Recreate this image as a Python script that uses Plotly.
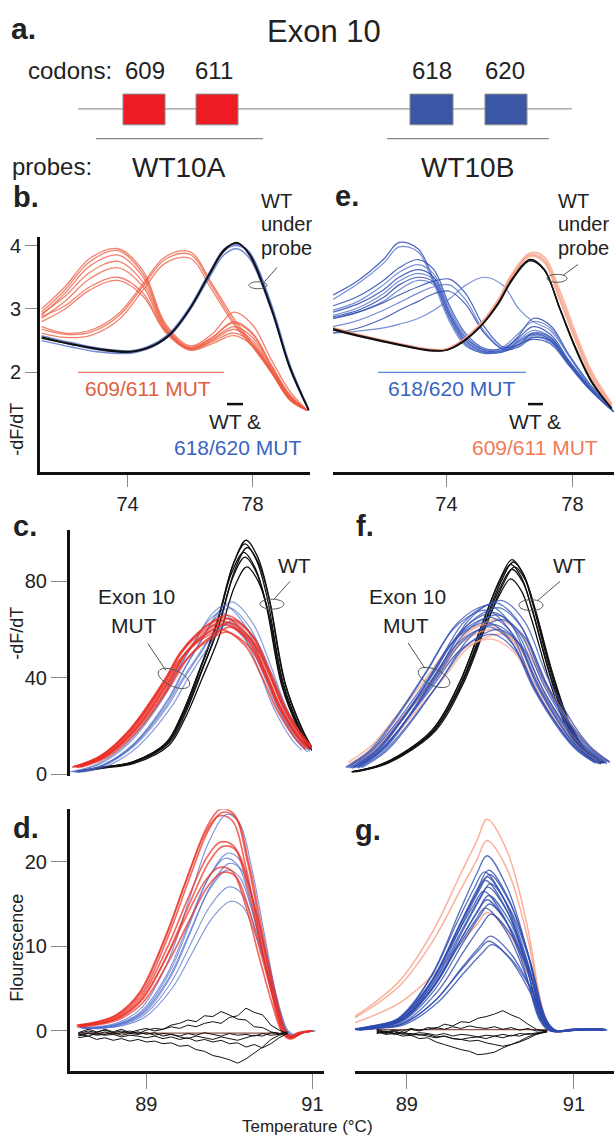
import numpy as np
import plotly.graph_objects as go

# ---------------- DATA ----------------
# Panel a (diagram)
codon_labels = ["609", "611", "618", "620"]
probe_labels = ["WT10A", "WT10B"]

# Panel b: -dF/dT, WT10A probe (temperature samples)
b_x = [71.25, 72.0, 72.8, 73.7, 74.5, 75.2, 76.0, 76.7, 77.4, 78.0, 78.6, 79.2, 79.75]
b_red_low = [  # 609/611 MUT, low-Tm peak
    [3.00, 3.35, 3.80, 3.95, 3.60, 2.78, 2.42, 2.60, 2.95, 2.75, 2.20, 1.70, 1.40],
    [2.95, 3.30, 3.75, 3.92, 3.55, 2.75, 2.40, 2.55, 2.80, 2.62, 2.12, 1.65, 1.40],
    [2.90, 3.25, 3.68, 3.85, 3.50, 2.72, 2.38, 2.52, 2.72, 2.55, 2.08, 1.62, 1.40],
    [2.92, 3.20, 3.58, 3.75, 3.42, 2.70, 2.37, 2.50, 2.68, 2.50, 2.05, 1.60, 1.40],
    [2.85, 3.12, 3.48, 3.65, 3.35, 2.68, 2.36, 2.48, 2.62, 2.46, 2.02, 1.58, 1.40],
    [2.88, 3.05, 3.35, 3.50, 3.25, 2.66, 2.38, 2.55, 2.78, 2.60, 2.10, 1.62, 1.40],
    [2.80, 3.00, 3.30, 3.45, 3.20, 2.64, 2.35, 2.45, 2.58, 2.42, 2.00, 1.56, 1.40],
]
b_red_mid = [  # 609/611 MUT, intermediate peak
    [2.72, 2.62, 2.66, 2.92, 3.40, 3.82, 3.90, 3.40, 2.85, 2.45, 2.05, 1.60, 1.40],
    [2.68, 2.60, 2.63, 2.88, 3.36, 3.78, 3.86, 3.36, 2.80, 2.42, 2.02, 1.58, 1.40],
    [2.62, 2.55, 2.58, 2.82, 3.30, 3.72, 3.80, 3.30, 2.76, 2.40, 2.00, 1.56, 1.40],
]
b_wt_x = [71.25, 72.2, 73.1, 74.1, 74.8, 75.4, 76.0, 76.6, 77.1, 77.5, 77.9, 78.6, 79.2, 79.8]
b_blue = [  # 618/620 MUT
    [2.50, 2.40, 2.32, 2.30, 2.40, 2.60, 2.98, 3.48, 3.86, 3.95, 3.80, 2.98, 2.05, 1.40],
    [2.58, 2.47, 2.38, 2.34, 2.44, 2.65, 3.04, 3.56, 3.95, 4.02, 3.90, 3.08, 2.12, 1.42],
    [2.54, 2.44, 2.35, 2.32, 2.42, 2.63, 3.02, 3.53, 3.92, 4.00, 3.88, 3.04, 2.09, 1.41],
]
b_black = [  # WT
    [2.56, 2.45, 2.37, 2.33, 2.42, 2.62, 3.00, 3.52, 3.92, 4.05, 3.85, 3.00, 2.06, 1.40],
    [2.54, 2.44, 2.36, 2.32, 2.41, 2.61, 3.01, 3.54, 3.94, 4.04, 3.87, 3.02, 2.08, 1.41],
]

# Panel e: -dF/dT, WT10B probe
e_x = [70.4, 71.2, 72.0, 72.5, 73.1, 73.6, 74.1, 74.6, 75.2, 75.8, 76.3, 76.75, 77.3, 77.9, 78.5, 79.3]
e_blue = [  # 618/620 MUT
    [3.22, 3.45, 3.78, 4.05, 3.95, 3.45, 2.85, 2.45, 2.30, 2.35, 2.58, 2.85, 2.74, 2.27, 1.85, 1.38],
    [3.15, 3.40, 3.72, 3.98, 3.90, 3.40, 2.80, 2.42, 2.32, 2.40, 2.62, 2.80, 2.70, 2.25, 1.82, 1.38],
    [3.05, 3.20, 3.45, 3.65, 3.78, 3.62, 3.05, 2.62, 2.38, 2.38, 2.55, 2.72, 2.60, 2.18, 1.80, 1.38],
    [2.98, 3.12, 3.38, 3.58, 3.70, 3.55, 3.00, 2.58, 2.36, 2.36, 2.52, 2.66, 2.56, 2.15, 1.78, 1.38],
    [2.95, 3.08, 3.30, 3.50, 3.62, 3.50, 2.95, 2.55, 2.35, 2.34, 2.48, 2.60, 2.52, 2.13, 1.77, 1.38],
    [2.90, 3.02, 3.24, 3.44, 3.56, 3.46, 2.92, 2.52, 2.33, 2.33, 2.45, 2.55, 2.48, 2.12, 1.76, 1.38],
    [2.88, 2.98, 3.18, 3.38, 3.50, 3.42, 2.90, 2.50, 2.32, 2.32, 2.44, 2.52, 2.45, 2.10, 1.75, 1.38],
    [2.85, 2.95, 3.12, 3.30, 3.45, 3.38, 2.88, 2.48, 2.31, 2.34, 2.50, 2.62, 2.50, 2.12, 1.76, 1.38],
    [2.85, 2.95, 3.10, 3.22, 3.35, 3.44, 3.47, 3.25, 2.72, 2.40, 2.44, 2.62, 2.55, 2.16, 1.78, 1.38],
    [2.72, 2.82, 2.98, 3.10, 3.25, 3.35, 3.38, 3.15, 2.65, 2.37, 2.42, 2.58, 2.52, 2.14, 1.77, 1.38],
    [2.62, 2.70, 2.85, 2.98, 3.12, 3.24, 3.28, 3.08, 2.62, 2.36, 2.40, 2.55, 2.50, 2.13, 1.77, 1.38],
    [2.62, 2.65, 2.70, 2.76, 2.85, 2.98, 3.16, 3.37, 3.50, 3.37, 3.00, 2.80, 2.66, 2.25, 1.82, 1.38],
]
e_wt_x = [70.4, 71.4, 72.4, 73.47, 74.0, 74.5, 75.1, 75.65, 76.08, 76.65, 77.1, 77.6, 78.1, 78.6, 79.25]
e_salmon = [  # 609/611 MUT
    [2.70, 2.57, 2.46, 2.36, 2.36, 2.50, 2.78, 3.15, 3.55, 3.88, 3.82, 3.28, 2.62, 2.02, 1.50],
    [2.68, 2.55, 2.45, 2.35, 2.36, 2.49, 2.76, 3.12, 3.50, 3.85, 3.77, 3.20, 2.55, 1.97, 1.47],
    [2.70, 2.57, 2.46, 2.36, 2.37, 2.50, 2.76, 3.13, 3.52, 3.83, 3.74, 3.14, 2.50, 1.93, 1.45],
]
e_black = [  # WT
    [2.69, 2.56, 2.45, 2.35, 2.35, 2.48, 2.74, 3.10, 3.47, 3.78, 3.63, 3.00, 2.37, 1.85, 1.42],
    [2.67, 2.55, 2.44, 2.34, 2.35, 2.47, 2.73, 3.08, 3.45, 3.76, 3.62, 3.01, 2.39, 1.87, 1.43],
]

# Panel c: -dF/dT (no probe), normalised shapes x peak heights
c_black_x = [70.29, 71.24, 72.6, 74.0, 74.67, 75.37, 76.07, 76.74, 77.23, 77.7, 78.14, 78.8, 79.5, 79.92]
c_black_shape = [0.013, 0.03, 0.055, 0.14, 0.27, 0.46, 0.66, 0.91, 1.0, 0.93, 0.77, 0.40, 0.20, 0.115]
c_black_peaks = [97, 95.5, 94, 92, 90, 86]
c_black_shift = [0.05, 0.0, 0.1, -0.05, 0.0, 0.08]
c_red_x = [70.29, 71.4, 72.6, 74.0, 74.67, 75.37, 76.0, 76.49, 77.44, 78.14, 78.8, 79.5, 79.92]
c_red_shape = [0.05, 0.12, 0.29, 0.60, 0.78, 0.90, 0.97, 1.0, 0.89, 0.67, 0.43, 0.25, 0.175]
c_red_peaks = [66, 65, 64.5, 63.5, 63, 62, 61, 60, 59]
c_red_shift = [0.0, -0.1, 0.1, -0.15, 0.05, -0.05, 0.15, -0.2, 0.0]
c_blue_x = [70.29, 71.4, 72.6, 74.0, 74.67, 75.37, 76.07, 76.6, 77.44, 78.14, 78.8, 79.5, 79.92]
c_blue_shape = [0.015, 0.06, 0.18, 0.44, 0.62, 0.79, 0.95, 1.0, 0.88, 0.65, 0.40, 0.22, 0.15]
c_blue_peaks = [71.5, 70, 69, 67, 64, 63, 62]
c_blue_shift = [0.1, -0.2, 0.0, -0.35, 0.2, 0.0, -0.1]

# Panel f
f_black_x = [70.32, 71.3, 72.2, 73.52, 74.6, 75.52, 76.2, 76.68, 77.1, 77.52, 78.2, 78.88, 79.52, 80.28]
f_black_shape = [0.013, 0.04, 0.09, 0.21, 0.43, 0.71, 0.91, 1.0, 0.94, 0.79, 0.49, 0.25, 0.12, 0.056]
f_black_peaks = [89, 88, 87, 86, 85, 81]
f_black_shift = [0.0, 0.05, -0.05, 0.1, 0.0, -0.05]
f_blue_x = [70.32, 71.3, 72.2, 73.52, 74.6, 75.52, 76.0, 76.88, 77.8, 78.88, 79.52, 80.28]
f_blue_shape = [0.044, 0.15, 0.32, 0.62, 0.88, 0.985, 1.0, 0.88, 0.56, 0.28, 0.16, 0.074]
f_blue_peaks = [72, 71, 70, 69, 68, 67, 66, 65, 64, 63, 62, 61, 60, 58]
f_blue_shift = [0.3, 0.1, -0.2, 0.2, -0.3, 0.0, 0.15, -0.1, 0.35, -0.25, 0.05, -0.15, 0.2, -0.05]
f_salmon_shape = [0.08, 0.2, 0.38, 0.66, 0.9, 0.99, 1.0, 0.9, 0.6, 0.32, 0.19, 0.09]
f_salmon_peaks = [64, 62, 60, 58, 56]
f_salmon_shift = [0.2, -0.2, 0.0, 0.3, -0.1]

# Panel d: fluorescence difference
d_red_x = [88.18, 88.4, 88.65, 88.93, 89.25, 89.49, 89.73, 89.89, 90.05, 90.22, 90.37, 90.53, 90.65, 90.73, 90.85, 90.98]
d_red_shape = [0.027, 0.04, 0.073, 0.175, 0.44, 0.69, 0.92, 1.0, 0.98, 0.76, 0.47, 0.175, 0.0, -0.035, -0.01, 0.0]
d_red_peaks = [26.2, 25.8, 25.4, 22.3, 21.8, 19.3, 18.7]
d_red_shift = [0.0, 0.02, -0.02, 0.0, 0.03, -0.02, 0.02]
d_blue_x = [88.18, 88.4, 88.65, 88.93, 89.25, 89.49, 89.73, 89.95, 90.1, 90.25, 90.4, 90.55, 90.65, 90.73, 90.85, 90.98]
d_blue_shape = [0.02, 0.02, 0.04, 0.11, 0.33, 0.60, 0.87, 1.0, 0.96, 0.75, 0.45, 0.15, 0.0, -0.03, -0.01, 0.0]
d_blue_peaks = [25.6, 21.0, 20.4, 19.8, 19.0, 17.0, 15.3]
d_blue_shift = [0.02, 0.03, 0.0, 0.05, 0.02, 0.04, 0.06]
d_black_x = [88.18, 88.3, 88.4, 88.5, 88.6, 88.7, 88.8, 88.9, 89.0, 89.1, 89.2, 89.3, 89.4, 89.5, 89.6,
             89.7, 89.8, 89.9, 90.0, 90.1, 90.2, 90.3, 90.4, 90.5, 90.6, 90.7]
d_black = [
    [-0.5, -0.2, -0.4, -0.1, -0.4, -0.2, 0.0, -0.3, 0.1, 0.3, 0.2, 0.7, 0.9, 1.3, 1.1, 1.8, 1.7, 2.3, 1.9, 1.4, 1.3, 0.5, 0.4, -0.1, -0.3, -0.2],
    [-0.3, 0.0, -0.2, 0.2, -0.1, 0.2, -0.2, 0.1, 0.3, 0.0, 0.2, 0.5, 0.3, 0.7, 0.5, 0.9, 1.1, 0.9, 1.6, 1.8, 2.7, 2.2, 1.9, 0.7, 0.1, -0.3],
    [-0.6, -0.3, -0.5, -0.4, -0.2, -0.5, -0.3, -0.4, -0.2, -0.5, -0.3, -0.4, -0.6, -0.3, -0.5, -0.2, -0.4, -0.6, -0.3, -0.5, -0.4, -0.6, -0.3, -0.5, -0.4, -0.3],
    [-0.4, -0.6, -0.3, -0.5, -0.4, -0.7, -0.5, -0.6, -0.8, -0.6, -0.9, -0.7, -1.0, -0.8, -1.2, -1.0, -1.3, -1.1, -1.5, -1.4, -1.9, -1.6, -2.0, -1.5, -0.8, -0.3],
    [-0.8, -0.6, -1.0, -0.8, -1.1, -0.9, -1.2, -1.0, -1.3, -1.2, -1.5, -1.4, -1.8, -1.7, -2.2, -2.4, -2.9, -3.1, -3.4, -3.8, -3.3, -2.6, -1.9, -1.0, -0.5, -0.3],
    [-0.2, 0.2, -0.1, 0.1, -0.2, 0.0, -0.3, -0.1, -0.4, -0.2, -0.6, -0.4, -0.7, -0.9, -0.6, -0.8, -1.0, -0.7, -0.9, -1.1, -0.8, -0.5, -0.6, -0.2, -0.3, -0.1],
]

# Panel g
g_x = [88.38, 88.6, 88.92, 89.31, 89.63, 89.84, 89.96, 90.2, 90.44, 90.63, 90.75, 91.0, 91.34]
g_blue_shape = [0.011, 0.03, 0.077, 0.33, 0.68, 0.9, 1.0, 0.82, 0.46, 0.077, 0.0, 0.01, 0.011]
g_blue_peaks = [20.7, 19.0, 18.8, 18.5, 18.2, 17.8, 17.4, 17.0, 16.5, 16.0, 15.5, 15.0, 14.5, 13.8, 11.2, 10.6, 10.2]
g_blue_shift = [0.0, 0.02, -0.03, 0.03, 0.0, -0.02, 0.04, 0.01, -0.04, 0.02, 0.0, 0.03, -0.02, 0.05, 0.04, 0.02, 0.06]
g_salmon_shape = [0.07, 0.13, 0.24, 0.47, 0.73, 0.9, 1.0, 0.85, 0.5, 0.1, 0.0, 0.01, 0.01]
g_salmon_peaks = [25.0, 22.5, 14.0]
g_black_x = [88.64, 88.75, 88.85, 88.95, 89.05, 89.15, 89.25, 89.35, 89.45, 89.55, 89.65, 89.75, 89.85,
             89.95, 90.05, 90.15, 90.25, 90.35, 90.45, 90.55, 90.68]
g_black = [
    [0.1, -0.2, 0.0, -0.3, 0.2, 0.0, 0.4, 0.3, 0.8, 0.6, 1.1, 1.0, 1.5, 1.7, 2.0, 2.4, 1.9, 1.5, 0.8, 0.2, -0.1],
    [-0.1, -0.4, -0.3, -0.6, -0.5, -0.9, -0.8, -1.3, -1.6, -1.9, -2.2, -2.4, -2.8, -2.7, -2.5, -2.0, -1.6, -1.2, -0.7, -0.3, -0.1],
    [0.0, -0.3, -0.1, -0.4, -0.3, -0.5, -0.4, -0.7, -0.6, -0.9, -1.0, -1.2, -1.1, -1.4, -1.6, -1.8, -1.6, -1.3, -0.9, -0.4, 0.0],
    [-0.2, 0.0, -0.3, -0.1, -0.4, -0.2, -0.3, -0.5, -0.3, -0.6, -0.4, -0.5, -0.7, -0.5, -0.6, -0.4, -0.6, -0.3, -0.4, -0.2, 0.0],
    [0.2, -0.1, 0.1, 0.0, 0.3, 0.1, 0.2, 0.4, 0.2, 0.5, 0.3, 0.6, 0.4, 0.3, 0.5, 0.2, 0.4, 0.1, 0.3, 0.0, 0.1],
    [-0.3, -0.1, -0.4, -0.2, -0.5, -0.4, -0.6, -0.8, -0.6, -0.9, -1.0, -0.8, -0.7, -0.9, -0.6, -0.8, -0.5, -0.6, -0.3, -0.4, -0.1],
]

# ---------------- LAYOUT HELPERS ----------------
W, H = 614, 1143
FONT = "Liberation Sans, Arial, sans-serif"
TXT = "#222222"


def X(px):
    return px / W


def Y(py):
    return 1 - py / H


fig = go.Figure()


def add_line(xs, ys, ax, color, width=1.2, shape="spline"):
    fig.add_trace(go.Scatter(
        x=list(xs), y=list(ys), mode="lines", xaxis="x" + ax, yaxis="y" + ax,
        line=dict(color=color, width=width, shape=shape, smoothing=1.0),
        showlegend=False, hoverinfo="skip"))


def add_scaled(xs, shape, peaks, shifts, ax, color, width=1.2):
    base_x = np.array(xs)
    base_s = np.array(shape)
    for i, pk in enumerate(peaks):
        sh = shifts[i] if shifts is not None else 0.0
        add_line(base_x + sh, base_s * pk, ax, color, width)


# ---------------- TRACES ----------------
# b (axis "")
for c in b_red_low:
    add_line(b_x, c, "", "rgba(238,88,62,0.75)", 1.3)
for c in b_red_mid:
    add_line(b_x, c, "", "rgba(238,88,62,0.75)", 1.3)
for c in b_blue:
    add_line(b_wt_x, c, "", "rgba(70,100,195,0.75)", 1.4)
for c in b_black:
    add_line(b_wt_x, c, "", "#111111", 1.4)

# e (axis "2")
for i, c in enumerate(e_blue):
    add_line(e_x, c, "2", "rgba(45,75,175,0.85)" if i % 2 == 0 else "rgba(85,115,205,0.8)", 1.2)
for c in e_salmon:
    add_line(e_wt_x, c, "2", "rgba(248,160,135,0.75)", 2.0)
for c in e_black:
    add_line(e_wt_x, c, "2", "#111111", 1.5)

# c (axis "3")
add_scaled(c_black_x, c_black_shape, c_black_peaks, c_black_shift, "3", "#111111", 1.3)
add_scaled(c_blue_x, c_blue_shape, c_blue_peaks, c_blue_shift, "3", "rgba(70,100,195,0.6)", 1.3)
add_scaled(c_red_x, c_red_shape, c_red_peaks, c_red_shift, "3", "rgba(235,45,35,0.7)", 1.8)

# f (axis "4")
add_scaled(f_black_x, f_black_shape, f_black_peaks, f_black_shift, "4", "#111111", 1.3)
add_scaled(f_blue_x, f_salmon_shape, f_salmon_peaks, f_salmon_shift, "4", "rgba(248,160,135,0.7)", 1.6)
add_scaled(f_blue_x, f_blue_shape, f_blue_peaks, f_blue_shift, "4", "rgba(50,80,180,0.75)", 1.3)

# d (axis "5")
add_scaled(d_blue_x, d_blue_shape, d_blue_peaks, d_blue_shift, "5", "rgba(80,110,205,0.75)", 1.1)
add_scaled(d_red_x, d_red_shape, d_red_peaks, d_red_shift, "5", "rgba(235,45,35,0.7)", 1.7)
add_line([d_black_x[0], d_black_x[-2]], [-0.25, -0.25], "5", "#7a2a1a", 1.0, "linear")
for c in d_black:
    add_line(d_black_x, c, "5", "#111111", 1.0, "linear")

# g (axis "6")
add_scaled(g_x, g_salmon_shape, g_salmon_peaks, None, "6", "rgba(248,150,120,0.75)", 1.5)
add_scaled(g_x, g_blue_shape, g_blue_peaks, g_blue_shift, "6", "rgba(45,75,175,0.8)", 1.3)
add_line([g_black_x[0], g_black_x[-1]], [0.15, 0.15], "6", "#7a2a1a", 1.0, "linear")
for c in g_black:
    add_line(g_black_x, c, "6", "#111111", 1.0, "linear")


# ---------------- AXES ----------------
def xax(px0, px1, rng, anchor, tickvals=None, showline=True, ticklen=12, standoff=None):
    d = dict(domain=[X(px0), X(px1)], range=rng, anchor=anchor, showgrid=False, zeroline=False,
             showline=showline, linecolor="#111111", linewidth=3,
             tickfont=dict(family=FONT, size=20, color=TXT))
    if tickvals:
        d.update(tickmode="array", tickvals=tickvals, ticks="outside", ticklen=ticklen,
                 tickcolor="#888888", tickwidth=1, showticklabels=True)
        if standoff is not None:
            d.update(ticklabelstandoff=standoff)
    else:
        d.update(ticks="", showticklabels=False)
    return d


def yax(py_top, py_bot, rng, anchor, tickvals=None, showline=True, ticklen=12):
    d = dict(domain=[Y(py_bot), Y(py_top)], range=rng, anchor=anchor, showgrid=False, zeroline=False,
             showline=showline, linecolor="#111111", linewidth=3,
             tickfont=dict(family=FONT, size=20, color=TXT))
    if tickvals:
        d.update(tickmode="array", tickvals=tickvals, ticks="outside", ticklen=ticklen,
                 tickcolor="#888888", tickwidth=1, showticklabels=True)
    else:
        d.update(ticks="", showticklabels=False)
    return d


layout_axes = dict(
    xaxis=xax(40, 310, [71.2, 79.84], "y", [74, 78]),
    yaxis=yax(237, 475, [0.42, 4.14], "x", [2, 3, 4]),
    xaxis2=xax(333, 614, [70.4, 79.32], "y2", [74, 78]),
    yaxis2=yax(237, 475, [0.42, 4.14], "x2", None, showline=False),
    xaxis3=xax(70, 312, [70.0, 80.0], "y3", None, showline=False),
    yaxis3=yax(533, 782, [-0.82, 101.3], "x3", [0, 40, 80], ticklen=16),
    xaxis4=xax(345, 610, [70.0, 80.6], "y4", None, showline=False),
    yaxis4=yax(533, 782, [-0.82, 101.3], "x4", None, showline=False),
    xaxis5=xax(70, 324, [88.08, 91.14], "y5", [89, 91], ticklen=15, standoff=-2),
    yaxis5=yax(815, 1079, [-4.68, 26.2], "x5", [0, 10, 20], ticklen=16),
    xaxis6=xax(355, 614, [88.38, 91.48], "y6", [89, 91], ticklen=15, standoff=-2),
    yaxis6=yax(815, 1079, [-4.68, 26.2], "x6", None, showline=False),
)

# ---------------- ANNOTATIONS ----------------
ann = []


def text(px, py, s, size=20, color=TXT, xanchor="center", bold=False, angle=0):
    ann.append(dict(x=X(px), y=Y(py), xref="paper", yref="paper", text=("<b>%s</b>" % s) if bold else s,
                    showarrow=False, xanchor=xanchor, yanchor="middle", textangle=angle,
                    font=dict(family=FONT, size=size, color=color)))


# panel letters
text(9, 27, "a.", 30, bold=True, xanchor="left")
text(11, 197, "b.", 29, bold=True, xanchor="left")
text(333, 196, "e.", 29, bold=True, xanchor="left")
text(11, 529, "c.", 29, bold=True, xanchor="left")
text(354, 529, "f.", 29, bold=True, xanchor="left")
text(11, 834, "d.", 29, bold=True, xanchor="left")
text(353, 836, "g.", 29, bold=True, xanchor="left")

# panel a
text(324, 30, "Exon 10", 31)
text(26, 69, "codons:", 24, xanchor="left")
codon_px = [145, 214, 432, 505]
for lab, cx in zip(codon_labels, codon_px):
    text(cx, 69, lab, 24)
text(10, 166, "probes:", 24, xanchor="left")
for lab, cx in zip(probe_labels, [179, 467]):
    text(cx, 167, lab, 28)

# panel b
text(259, 201, "WT", 20, xanchor="left")
text(259, 224, "under", 20, xanchor="left")
text(259, 248, "probe", 20, xanchor="left")
text(148, 390, "609/611 MUT", 21, "#e0603f")
text(235, 424, "WT &", 21)
text(237, 450, "618/620 MUT", 21, "#3a64c0")
text(17, 432, "-dF/dT", 18, angle=-90)

# panel e
text(556, 201, "WT", 20, xanchor="left")
text(556, 224, "under", 20, xanchor="left")
text(556, 248, "probe", 20, xanchor="left")
text(451, 390, "618/620 MUT", 21, "#3a64c0")
text(535, 424, "WT &", 21)
text(535, 450, "609/611 MUT", 21, "#f07a5a")

# panel c
text(294, 569, "WT", 21)
text(136, 600, "Exon 10", 21)
text(134, 630, "MUT", 21)
text(17, 638, "-dF/dT", 18, angle=-90)

# panel f
text(569, 569, "WT", 21)
text(407, 600, "Exon 10", 21)
text(406, 630, "MUT", 21)

# panel d / g
text(17, 955, "Flourescence", 18, angle=-90)
text(307, 1135, "Temperature (°C)", 17)

# ---------------- SHAPES ----------------
shapes = []


def pline(x0, y0, x1, y1, color="#888888", width=1):
    shapes.append(dict(type="line", xref="paper", yref="paper", x0=X(x0), y0=Y(y0), x1=X(x1), y1=Y(y1),
                       line=dict(color=color, width=width)))


def prect(x0, y0, x1, y1, fill):
    shapes.append(dict(type="rect", xref="paper", yref="paper", x0=X(x0), y0=Y(y0), x1=X(x1), y1=Y(y1),
                       fillcolor=fill, line=dict(color="#8a8a8a", width=1)))


def pellipse(cx, cy, rx, ry, ang_deg, color="#555555"):
    t = np.linspace(0, 2 * np.pi, 40)
    a = np.deg2rad(ang_deg)
    xs = cx + rx * np.cos(t) * np.cos(a) - ry * np.sin(t) * np.sin(a)
    ys = cy + rx * np.cos(t) * np.sin(a) + ry * np.sin(t) * np.cos(a)
    path = "M " + " L ".join("%.5f,%.5f" % (X(px), Y(py)) for px, py in zip(xs, ys)) + " Z"
    shapes.append(dict(type="path", xref="paper", yref="paper", path=path,
                       line=dict(color=color, width=1)))


# panel a diagram
pline(78, 108, 572, 108, "#999999", 1.2)
box_px = [(123, 165), (196, 238), (410, 453), (485, 527)]
box_col = ["#ed1c24", "#ed1c24", "#3a56a5", "#3a56a5"]
for (x0, x1), col in zip(box_px, box_col):
    prect(x0, 93, x1, 124, col)
pline(96, 138, 263, 138, "#888888", 1.2)
pline(387, 138, 549, 138, "#888888", 1.2)

# panel b helpers
pline(78, 374, 224, 374, "#ef7a60", 1.2)
pline(227, 406, 243, 406, "#111111", 2.5)
pellipse(258, 286, 9, 3.5, 0)
pline(264, 283, 277, 268, "#555555", 1)
# panel e helpers
pline(378, 374, 526, 374, "#5a82d8", 1.2)
pline(528, 406, 543, 406, "#111111", 2.5)
pellipse(557, 279, 10, 4, 0)
pline(563, 276, 578, 265, "#555555", 1)
# panel c
pellipse(272, 608, 12, 5, 0)
pline(274, 603, 290, 585, "#555555", 1)
pellipse(174, 683, 17, 8, 25)
pline(148, 648, 166, 675, "#555555", 1)
# panel f
pellipse(531, 609, 12, 5.5, 0)
pline(538, 604, 560, 585, "#555555", 1)
pellipse(434, 682, 17, 8, 25)
pline(408, 647, 425, 673, "#555555", 1)

fig.update_layout(
    width=W, height=H, margin=dict(l=0, r=0, t=0, b=0),
    paper_bgcolor="white", plot_bgcolor="white",
    annotations=ann, shapes=shapes, showlegend=False,
    font=dict(family=FONT, color=TXT),
    **layout_axes)

fig.write_html("out.html")
